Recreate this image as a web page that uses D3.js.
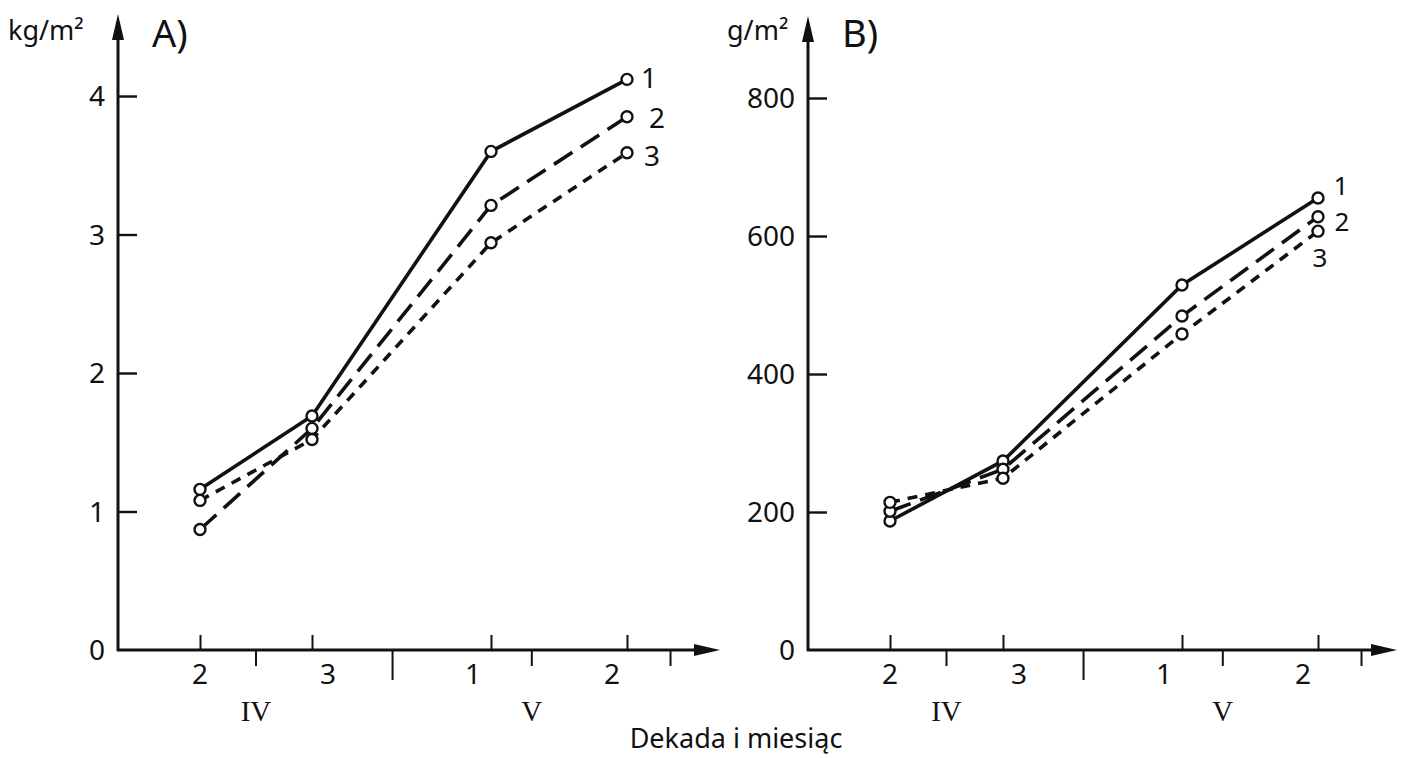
<!DOCTYPE html>
<html>
<head>
<meta charset="utf-8">
<script src="https://cdn.jsdelivr.net/npm/d3@7"></script>
<style>
  html, body { margin: 0; padding: 0; background: #fff; }
  svg { display: block; }
  text { font-family: "Noto Sans", "Open Sans", sans-serif; fill: #111; }
  .roman { font-family: "Liberation Serif", "DejaVu Serif", serif; }
</style>
</head>
<body>
<svg id="chart" width="1420" height="758"></svg>
<script>
// Decades along the x axis (decade number within month) and the months below them
const decadeLabels = ["2", "3", "1", "2"];
const monthLabels = ["IV", "V"];
const seriesNames = ["1", "2", "3"];

// Panel A: yield, kg/m²
const aTicks = [0, 1, 2, 3, 4];
const aSeries1 = [1.16, 1.69, 3.60, 4.12];
const aSeries2 = [0.87, 1.60, 3.21, 3.85];
const aSeries3 = [1.08, 1.52, 2.94, 3.59];

// Panel B: yield, g/m²
const bTicks = [0, 200, 400, 600, 800];
const bSeries1 = [187, 274, 529, 655];
const bSeries2 = [201, 262, 484, 628];
const bSeries3 = [214, 249, 458, 607];

const svg = d3.select("#chart");
const ink = "#111";

// Lower ticks (in decade units): month centres and the month boundary
const lowerTicks = [
  { at: 0.5, long: false },
  { at: 1.45, long: true },
  { at: 2.3, long: false },
  { at: 3.32, long: false }
];
const monthAt = [0.5, 2.3];

// Line styles of the three series: solid, long dash, short dash
const dashes = [null, "22 10", "10 8"];

// Small hand-lettering nudges of the decade numbers
const decadeNudge = [0, 16, -18, -15];

function drawPanel(cfg) {
  const g = svg.append("g");
  const x = d3.scaleLinear().domain([0, 1, 2, 3]).range(cfg.xRange);
  const y = d3.scaleLinear().domain(cfg.yDomain).range([cfg.y0, cfg.yTop]);

  // y axis with arrow
  const yAxis = d3.axisRight(y).tickValues(cfg.ticks).tickSize(19).tickFormat("");
  const ya = g.append("g").attr("transform", `translate(${cfg.x0},0)`).call(yAxis);
  ya.select(".domain").remove();
  ya.selectAll(".tick line").attr("stroke", ink).attr("stroke-width", 2.4);
  ya.selectAll(".tick").filter(d => d === 0).remove();
  g.append("line")
    .attr("x1", cfg.x0).attr("x2", cfg.x0)
    .attr("y1", cfg.y0 + 1).attr("y2", cfg.arrowTop + 18)
    .attr("stroke", ink).attr("stroke-width", 3);
  g.append("path")
    .attr("d", `M${cfg.x0},${cfg.arrowTop} L${cfg.x0 - 6},${cfg.arrowTop + 26} L${cfg.x0 + 6},${cfg.arrowTop + 26} Z`)
    .attr("fill", ink);

  // y tick labels
  g.selectAll(".ylab").data(cfg.ticks).join("text")
    .attr("x", cfg.x0 - 13)
    .attr("y", d => y(d))
    .attr("dy", "0.36em")
    .attr("text-anchor", "end")
    .attr("font-size", 28)
    .text(d => d);

  // x axis with arrow
  g.append("line")
    .attr("x1", cfg.x0 - 1).attr("x2", cfg.arrowRight - 18)
    .attr("y1", cfg.y0).attr("y2", cfg.y0)
    .attr("stroke", ink).attr("stroke-width", 3);
  g.append("path")
    .attr("d", `M${cfg.arrowRight},${cfg.y0} L${cfg.arrowRight - 26},${cfg.y0 - 6} L${cfg.arrowRight - 26},${cfg.y0 + 6} Z`)
    .attr("fill", ink);

  // decade ticks above the axis
  const xAxis = d3.axisTop(x).tickValues([0, 1, 2, 3]).tickSize(15).tickFormat("");
  const xa = g.append("g").attr("transform", `translate(0,${cfg.y0})`).call(xAxis);
  xa.select(".domain").remove();
  xa.selectAll(".tick line").attr("stroke", ink).attr("stroke-width", 2);

  // month ticks below the axis
  g.selectAll(".lowtick").data(lowerTicks).join("line")
    .attr("x1", d => x(d.at)).attr("x2", d => x(d.at))
    .attr("y1", cfg.y0).attr("y2", d => cfg.y0 + (d.long ? 30 : 16))
    .attr("stroke", ink).attr("stroke-width", 2);

  // decade numbers and month numerals
  g.selectAll(".dlab").data(decadeLabels).join("text")
    .attr("x", (d, i) => x(i) + decadeNudge[i])
    .attr("y", cfg.y0 + 34)
    .attr("text-anchor", "middle")
    .attr("font-size", 28)
    .text(d => d);
  g.selectAll(".mlab").data(monthLabels).join("text")
    .attr("class", "roman")
    .attr("x", (d, i) => x(monthAt[i]))
    .attr("y", cfg.y0 + 71)
    .attr("text-anchor", "middle")
    .attr("font-size", 29)
    .text(d => d);

  // unit and panel letter
  g.append("text")
    .attr("x", cfg.unitX).attr("y", 40)
    .attr("font-size", 27)
    .text(cfg.unit);
  g.append("text")
    .attr("x", cfg.x0 + 34).attr("y", 47)
    .attr("font-size", 38)
    .text(cfg.letter);

  // series lines
  const line = d3.line().x((d, i) => x(i)).y(d => y(d));
  cfg.series.forEach((vals, s) => {
    g.append("path")
      .datum(vals)
      .attr("d", line)
      .attr("fill", "none")
      .attr("stroke", ink)
      .attr("stroke-width", 3.6)
      .attr("stroke-dasharray", dashes[s]);
  });
  // point markers
  cfg.series.forEach(vals => {
    g.selectAll(null).data(vals).join("circle")
      .attr("cx", (d, i) => x(i))
      .attr("cy", d => y(d))
      .attr("r", 5.5)
      .attr("fill", "#fff")
      .attr("stroke", ink)
      .attr("stroke-width", 2.4);
  });
  // series numbers at the line ends
  cfg.series.forEach((vals, s) => {
    g.append("text")
      .attr("x", x(3) + cfg.endDx[s])
      .attr("y", y(vals[3]) + cfg.endDy[s])
      .attr("dy", "0.36em")
      .attr("text-anchor", "middle")
      .attr("font-size", cfg.endSize)
      .text(seriesNames[s]);
  });
}

drawPanel({
  x0: 118, y0: 650, yTop: 96, arrowTop: 14, arrowRight: 720,
  xRange: [200, 312, 491, 627],
  yDomain: [0, 4], ticks: aTicks,
  series: [aSeries1, aSeries2, aSeries3],
  unit: "kg/m²", unitX: 8, letter: "A)",
  endDx: [22, 30, 25], endDy: [-1, 1, 3], endSize: 28
});

drawPanel({
  x0: 808, y0: 650, yTop: 98, arrowTop: 16, arrowRight: 1397,
  xRange: [890, 1003, 1182, 1318],
  yDomain: [0, 800], ticks: bTicks,
  series: [bSeries1, bSeries2, bSeries3],
  unit: "g/m²", unitX: 727, letter: "B)",
  endDx: [23, 24, 2], endDy: [-12, 5, 26], endSize: 26
});

// shared x axis title
svg.append("text")
  .attr("x", 736).attr("y", 748)
  .attr("text-anchor", "middle")
  .attr("font-size", 27)
  .text("Dekada i miesiąc");
</script>
</body>
</html>
